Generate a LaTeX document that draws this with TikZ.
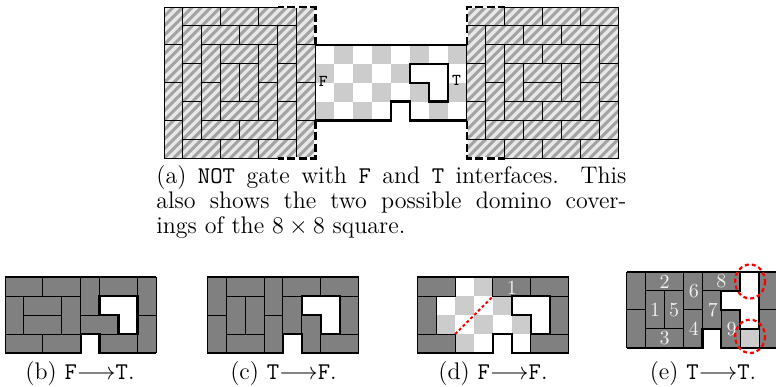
\documentclass[tikz,border=0pt]{standalone}
\definecolor{dom}{gray}{0.5}
\definecolor{chk}{gray}{0.8}
\definecolor{hbg}{gray}{0.91}
\definecolor{hfg}{gray}{0.64}
\definecolor{numc}{gray}{0.94}
\newcommand\GadgetFrame{%
  \draw[thickl] (0,0) -- (8,0);
  \draw[thickl] (0,4) -- (4,4) -- (4,3) -- (5,3) -- (5,4) -- (8,4);}
\newcommand\GadgetHole{%
  \draw[thickl,fill=white] (5,1) -- (7,1) -- (7,3) -- (6,3) -- (6,2) -- (5,2) -- cycle;}
\begin{document}
\begin{tikzpicture}[x=0.5pt,y=-0.5pt,
  thinl/.style={line width=0.5pt},
  thickl/.style={line width=1.15pt},
  dashl/.style={line width=1.15pt, dash pattern=on 4pt off 1.8pt},
  reddot/.style={red, line width=1pt, dash pattern=on 1.5pt off 1.2pt},
  redell/.style={red, line width=1.1pt, dash pattern=on 2pt off 1.5pt},
  capt/.style={inner sep=0pt, text height=8pt, text depth=2pt, font=\fontsize{12}{12.5}\selectfont},
  lab/.style={inner sep=0pt, font=\fontsize{8.3}{9}\selectfont\ttfamily},
  num/.style={inner sep=0pt, text=numc, font=\fontsize{10}{11}\selectfont}]
\useasboundingbox (0,0) rectangle (776,386);

% ---------- (a) top figure ----------
\begin{scope}[shift={(164,7)}, x=9.46pt, y=-9.46pt]
  % middle gadget
  \fill[white] (8,2) rectangle (16,6);
  \foreach \c/\r in {9/2,11/2,13/2,15/2,8/3,10/3,12/3,9/4,11/4,13/4,15/4,8/5,10/5,14/5}
    \fill[chk] (\c,\r) rectangle ++(1,1);
  % hatched squares
  \foreach \s in {0,16}{
    \begin{scope}
      \clip (\s,0) rectangle ++(8,8);
      \fill[hbg] (\s,0) rectangle ++(8,8);
      \foreach \i in {-16,...,16}
        \draw[hfg, line width=1.5pt] (\s+\i*0.5,8) -- ++(8,-8);
    \end{scope}
  }
  % left square tiling
  \foreach \c/\r in {0/0,0/2,0/4,0/6,7/0,7/2,7/4,7/6,1/1,1/3,1/5,6/1,6/3,6/5,2/2,2/4,5/2,5/4,3/3,4/3}
    \draw[thinl] (\c,\r) rectangle ++(1,2);
  \foreach \c/\r in {1/0,3/0,5/0,1/7,3/7,5/7,2/1,4/1,2/6,4/6,3/2,3/5}
    \draw[thinl] (\c,\r) rectangle ++(2,1);
  % right square tiling
  \begin{scope}[shift={(16,0)}]
    \foreach \c/\r in {0/0,2/0,4/0,6/0,0/7,2/7,4/7,6/7,1/1,3/1,5/1,1/6,3/6,5/6,2/2,4/2,2/5,4/5,3/3,3/4}
      \draw[thinl] (\c,\r) rectangle ++(2,1);
    \foreach \c/\r in {0/1,0/3,0/5,7/1,7/3,7/5,1/2,1/4,6/2,6/4,2/3,5/3}
      \draw[thinl] (\c,\r) rectangle ++(1,2);
  \end{scope}
  % gadget outline
  \begin{scope}[shift={(8,2)}]
    \GadgetHole
    \GadgetFrame
  \end{scope}
  % dashed borders
  \foreach \p in {{(8,2) -- (8,0) -- (6,0)},{(8,6) -- (8,8) -- (6,8)},
                  {(16,2) -- (16,0) -- (18,0)},{(16,6) -- (16,8) -- (18,8)}}{
    \draw[white, line width=1.2pt] \p;
    \draw[dashl] \p;
  }
  \node[lab] (lF) at (8.42,3.91) {F};
  \node[lab] (lT) at (15.46,3.88) {T};
\end{scope}

\node[capt, anchor=base west] (ca1) at (156,183.3)
  {\makebox[235pt][s]{(a) \texttt{NOT} gate with \texttt{F} and \texttt{T} interfaces. This}};
\node[capt, anchor=base west] (ca2) at (156,208.3)
  {\makebox[235pt][s]{also shows the two possible domino cover-}};
\node[capt, anchor=base west] (ca3) at (156,233.3) {ings of the $8\times 8$ square.};

% ---------- (b) ----------
\begin{scope}[shift={(5,277.3)}, x=9.46pt, y=-9.46pt]
  \foreach \c/\r in {0/0,2/0,5/0,1/1,1/2,4/2,0/3,2/3,5/3}
    \draw[thinl,fill=dom] (\c,\r) rectangle ++(2,1);
  \foreach \c/\r in {4/0,7/0,0/1,3/1,7/2}
    \draw[thinl,fill=dom] (\c,\r) rectangle ++(1,2);
  \GadgetHole
  \GadgetFrame
\end{scope}
\node[capt, anchor=base] (cb) at (80,379) {(b) \texttt{F}$\longrightarrow$\texttt{T}.};

% ---------- (c) ----------
\begin{scope}[shift={(207.3,277.3)}, x=9.46pt, y=-9.46pt]
  \foreach \c/\r in {1/0,4/0,6/0,1/3,6/3}
    \draw[thinl,fill=dom] (\c,\r) rectangle ++(2,1);
  \foreach \c/\r in {0/0,0/2,1/1,2/1,3/0,3/2,4/1,5/2,7/1}
    \draw[thinl,fill=dom] (\c,\r) rectangle ++(1,2);
  \GadgetHole
  \GadgetFrame
\end{scope}
\node[capt, anchor=base] (cc) at (283.5,379) {(c) \texttt{T}$\longrightarrow$\texttt{F}.};

% ---------- (d) ----------
\begin{scope}[shift={(417.3,277.3)}, x=9.46pt, y=-9.46pt]
  \foreach \c/\r in {3/0,2/1,4/1,1/2,3/2,5/2,2/3}
    \fill[chk] (\c,\r) rectangle ++(1,1);
  \foreach \c/\r in {0/0,4/0,6/0,0/3,6/3}
    \draw[thinl,fill=dom] (\c,\r) rectangle ++(2,1);
  \foreach \c/\r in {0/1,7/1}
    \draw[thinl,fill=dom] (\c,\r) rectangle ++(1,2);
  \node[num] (d1) at (5,0.55) {1};
  \draw[reddot] (2,3) -- (4,1);
  \GadgetHole
  \GadgetFrame
\end{scope}
\node[capt, anchor=base] (cd) at (493,379) {(d) \texttt{F}$\longrightarrow$\texttt{F}.};

% ---------- (e) ----------
\begin{scope}[shift={(626.7,272)}, x=9.46pt, y=-9.46pt]
  \foreach \c/\r in {1/0,4/0,1/3}
    \draw[thinl,fill=dom] (\c,\r) rectangle ++(2,1);
  \foreach \c/\r in {0/0,0/2,1/1,2/1,3/0,3/2,4/1,5/2,7/0,7/2}
    \draw[thinl,fill=dom] (\c,\r) rectangle ++(1,2);
  \draw[thinl,fill=chk] (6,3) rectangle ++(1,1);
  \draw[thickl,fill=white] (5,1) -- (6,1) -- (6,0) -- (7,0) -- (7,3) -- (6,3) -- (6,2) -- (5,2) -- cycle;
  \GadgetFrame
  \node[num] (e2) at (2,0.5) {2};
  \node[num] (e1) at (1.5,2) {1};
  \node[num] (e5) at (2.5,2) {5};
  \node[num] (e3) at (2,3.5) {3};
  \node[num] (e6) at (3.55,1) {6};
  \node[num] (e4) at (3.55,3) {4};
  \node[num] (e8) at (5,0.5) {8};
  \node[num] (e7) at (4.55,2) {7};
  \node[num] (e9) at (5.55,3) {9};
  \draw[redell] (6.52,0.5) ellipse [x radius=0.79, y radius=0.9];
  \draw[redell] (6.52,3.4) ellipse [x radius=0.79, y radius=0.88];
\end{scope}
\node[capt, anchor=base] (ce) at (703,379) {(e) \texttt{T}$\longrightarrow$\texttt{T}.};
\end{tikzpicture}
\end{document}
